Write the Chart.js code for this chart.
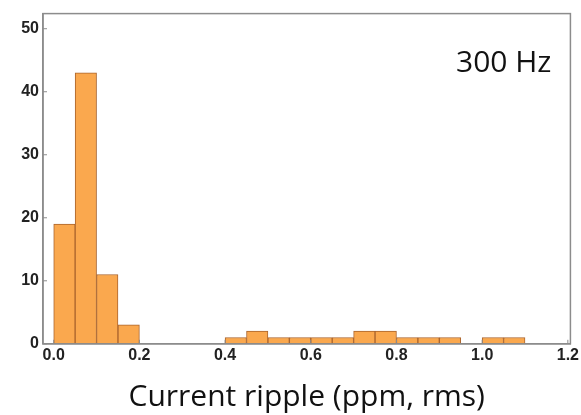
<!DOCTYPE html>
<html>
<head>
<meta charset="utf-8">
<script src="https://cdn.jsdelivr.net/npm/chart.js@4.4.0/dist/chart.umd.min.js"></script>
<style>
  html, body { margin: 0; padding: 0; background: #fff; }
  #wrap { width: 581px; height: 415px; }
</style>
</head>
<body>
<div id="wrap"><canvas id="hist"></canvas></div>
<script>
// histogram bins (left edge of each 0.05 wide bin) and counts
const binStarts = [0.0, 0.05, 0.10, 0.15, 0.40, 0.45, 0.50, 0.55, 0.60, 0.65, 0.70, 0.75, 0.80, 0.85, 0.90, 1.00, 1.05];
const counts    = [19,  43,   11,   3,    1,    2,    1,    1,    1,    1,    2,    2,    1,    1,    1,    1,    1];
const binWidth = 0.05;
const xTicks = [0.0, 0.2, 0.4, 0.6, 0.8, 1.0, 1.2];
const yTicks = [0, 10, 20, 30, 40, 50];

const points = binStarts.map((b, i) => ({ x: b + binWidth / 2, y: counts[i] }));

// frame, inner tick marks and the frequency label
const framePlugin = {
    id: 'frame',
    afterDraw(chart) {
        const ctx = chart.ctx;
        const a = chart.chartArea;
        const xs = chart.scales.x, ys = chart.scales.y;
        ctx.save();
        ctx.strokeStyle = '#8c8c8c';
        ctx.lineWidth = 1.5;
        ctx.strokeRect(a.left, a.top, a.right - a.left, a.bottom - a.top);
        ctx.lineWidth = 1;
        ctx.beginPath();
        yTicks.forEach(v => {
            const y = ys.getPixelForValue(v);
            ctx.moveTo(a.left, y); ctx.lineTo(a.left + 4, y);
        });
        xTicks.forEach(v => {
            const x = xs.getPixelForValue(v);
            ctx.moveTo(x, a.bottom); ctx.lineTo(x, a.bottom - 4);
        });
        ctx.stroke();
        ctx.fillStyle = '#111';
        ctx.font = '30px "Open Sans", "Noto Sans", sans-serif';
        ctx.textAlign = 'right';
        ctx.textBaseline = 'middle';
        ctx.fillText('300 Hz', a.right - 19, 63);
        ctx.restore();
    }
};

const config = {
    type: 'bar',
    data: {
        datasets: [{
            data: points,
            backgroundColor: 'rgb(250, 168, 78)',
            borderColor: 'rgb(170, 100, 45)',
            borderWidth: 1,
            barPercentage: 1,
            categoryPercentage: 1,
            borderSkipped: false
        }]
    },
    options: {
        responsive: true,
        maintainAspectRatio: false,
        animation: false,
        layout: { padding: { top: 13, right: 6, left: 0, bottom: 0 } },
        plugins: {
            legend: { display: false },
            tooltip: { enabled: false }
        },
        scales: {
            x: {
                type: 'linear',
                offset: false,
                min: -0.025,
                max: 1.206,
                grid: { display: false, drawTicks: false },
                border: { display: true, color: '#8c8c8c', width: 1.5 },
                ticks: {
                    stepSize: 0.2,
                    includeBounds: false,
                    padding: 2,
                    color: '#222',
                    font: { family: '"Liberation Sans", Arial, sans-serif', size: 16, weight: 'bold' },
                    callback: v => v.toFixed(1)
                },
                title: {
                    display: true,
                    text: 'Current ripple (ppm, rms)',
                    color: '#111',
                    font: { family: '"Open Sans", "Noto Sans", sans-serif', size: 30 },
                    padding: { top: 12, bottom: 0 }
                }
            },
            y: {
                min: 0,
                max: 52.4,
                grid: { display: false, drawTicks: false },
                border: { display: true, color: '#8c8c8c', width: 1.5 },
                ticks: {
                    stepSize: 10,
                    includeBounds: false,
                    padding: 4,
                    color: '#222',
                    font: { family: '"Liberation Sans", Arial, sans-serif', size: 16, weight: 'bold' }
                },
                afterFit: scale => { scale.width = 43; }
            }
        }
    },
    plugins: [framePlugin]
};

const chart = new Chart(document.getElementById('hist').getContext('2d'), config);
</script>
</body>
</html>
